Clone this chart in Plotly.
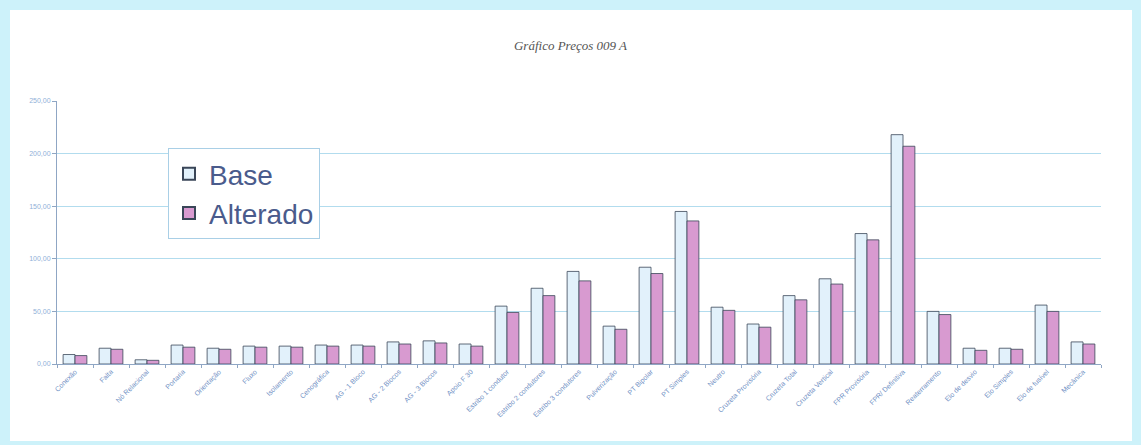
import plotly.graph_objects as go

categories = [
    "Conexão", "Falta", "Nó Relacional", "Portaria", "Orientação", "Fluxo",
    "Isolamento", "Cenográfica", "AG - 1 Bloco", "AG - 2 Blocos", "AG - 3 Blocos",
    "Apoio F 30", "Estribo 1 condutor", "Estribo 2 condutores", "Estribo 3 condutores",
    "Pulverização", "PT Bipolar", "PT Simples", "Neutro", "Cruzeta Provisória",
    "Cruzeta Total", "Cruzeta Vertical", "FPR Provisória", "FPR/ Definitiva",
    "Reaterramento", "Elo de desvio", "Elo Simples", "Elo de fusível", "Mecânica",
]
base = [9, 15, 4, 18, 15, 17, 17, 18, 18, 21, 22, 19, 55, 72, 88, 36, 92, 145,
        54, 38, 65, 81, 124, 218, 50, 15, 15, 56, 21]
alterado = [8, 14, 3.5, 16, 14, 16, 16, 17, 17, 19, 20, 17, 49, 65, 79, 33, 86, 136,
            51, 35, 61, 76, 118, 207, 47, 13, 14, 50, 19]
y_ticks = [0, 50, 100, 150, 200, 250]

L, R, T, B = 57, 40, 101, 81
W, H = 1141, 445
pw, ph = W - L - R, H - T - B

def px(x):
    return (x - L) / pw

def py(y):
    return (H - B - y) / ph

fig = go.Figure()
fig.add_trace(go.Bar(
    name="Base", x=categories, y=base,
    marker=dict(color="#e2f1fb", line=dict(color="#3a4658", width=0.8)),
))
fig.add_trace(go.Bar(
    name="Alterado", x=categories, y=alterado,
    marker=dict(color="#d89ad0", line=dict(color="#3a4658", width=0.8)),
))

fig.update_layout(
    width=W, height=H,
    margin=dict(l=L, r=R, t=T, b=B),
    paper_bgcolor="#cdf2fa",
    plot_bgcolor="white",
    barmode="group",
    bargap=0.34, bargroupgap=0.0,
    separators=",.",
    title=dict(text="Gráfico Preços 009 A", x=0.5, xanchor="center", y=1 - 45 / H,
               yanchor="middle",
               font=dict(family="Liberation Serif", size=13, style="italic",
                         color="#555555")),
    showlegend=True,
    legend=dict(
        x=px(168), y=py(148), xanchor="left", yanchor="top",
        bgcolor="white", bordercolor="#a9cfe6", borderwidth=1,
        font=dict(family="Liberation Sans, Arial", size=28, color="#4a5b8c"),
        itemsizing="constant", tracegroupgap=0, itemwidth=30,
    ),
    shapes=[dict(
        type="rect", xref="paper", yref="paper", layer="below",
        x0=px(10), x1=px(1132), y0=py(441), y1=py(10),
        fillcolor="white", line=dict(width=0),
    )],
)
fig.update_xaxes(
    tickangle=-45,
    tickfont=dict(family="Liberation Sans, Arial", size=7, color="#6f8fc4"),
    showline=True, linecolor="#8fa6c4", linewidth=1,
    ticks="outside", tickson="boundaries", ticklen=3, tickcolor="#8fa6c4",
    showgrid=False,
)
fig.update_yaxes(
    range=[0, 250], tickvals=y_ticks, tickformat=".2f",
    tickfont=dict(family="Liberation Sans, Arial", size=7, color="#8fb0d8"),
    showgrid=True, gridcolor="#b2dcee", gridwidth=1,
    showline=True, linecolor="#8fa6c4", linewidth=1,
    ticks="outside", ticklen=4, tickcolor="#8fa6c4",
    zeroline=False,
)

fig.write_html("out.html", config={"displayModeBar": False},
               post_script="document.body.style.margin='0';document.body.style.overflow='hidden';")
